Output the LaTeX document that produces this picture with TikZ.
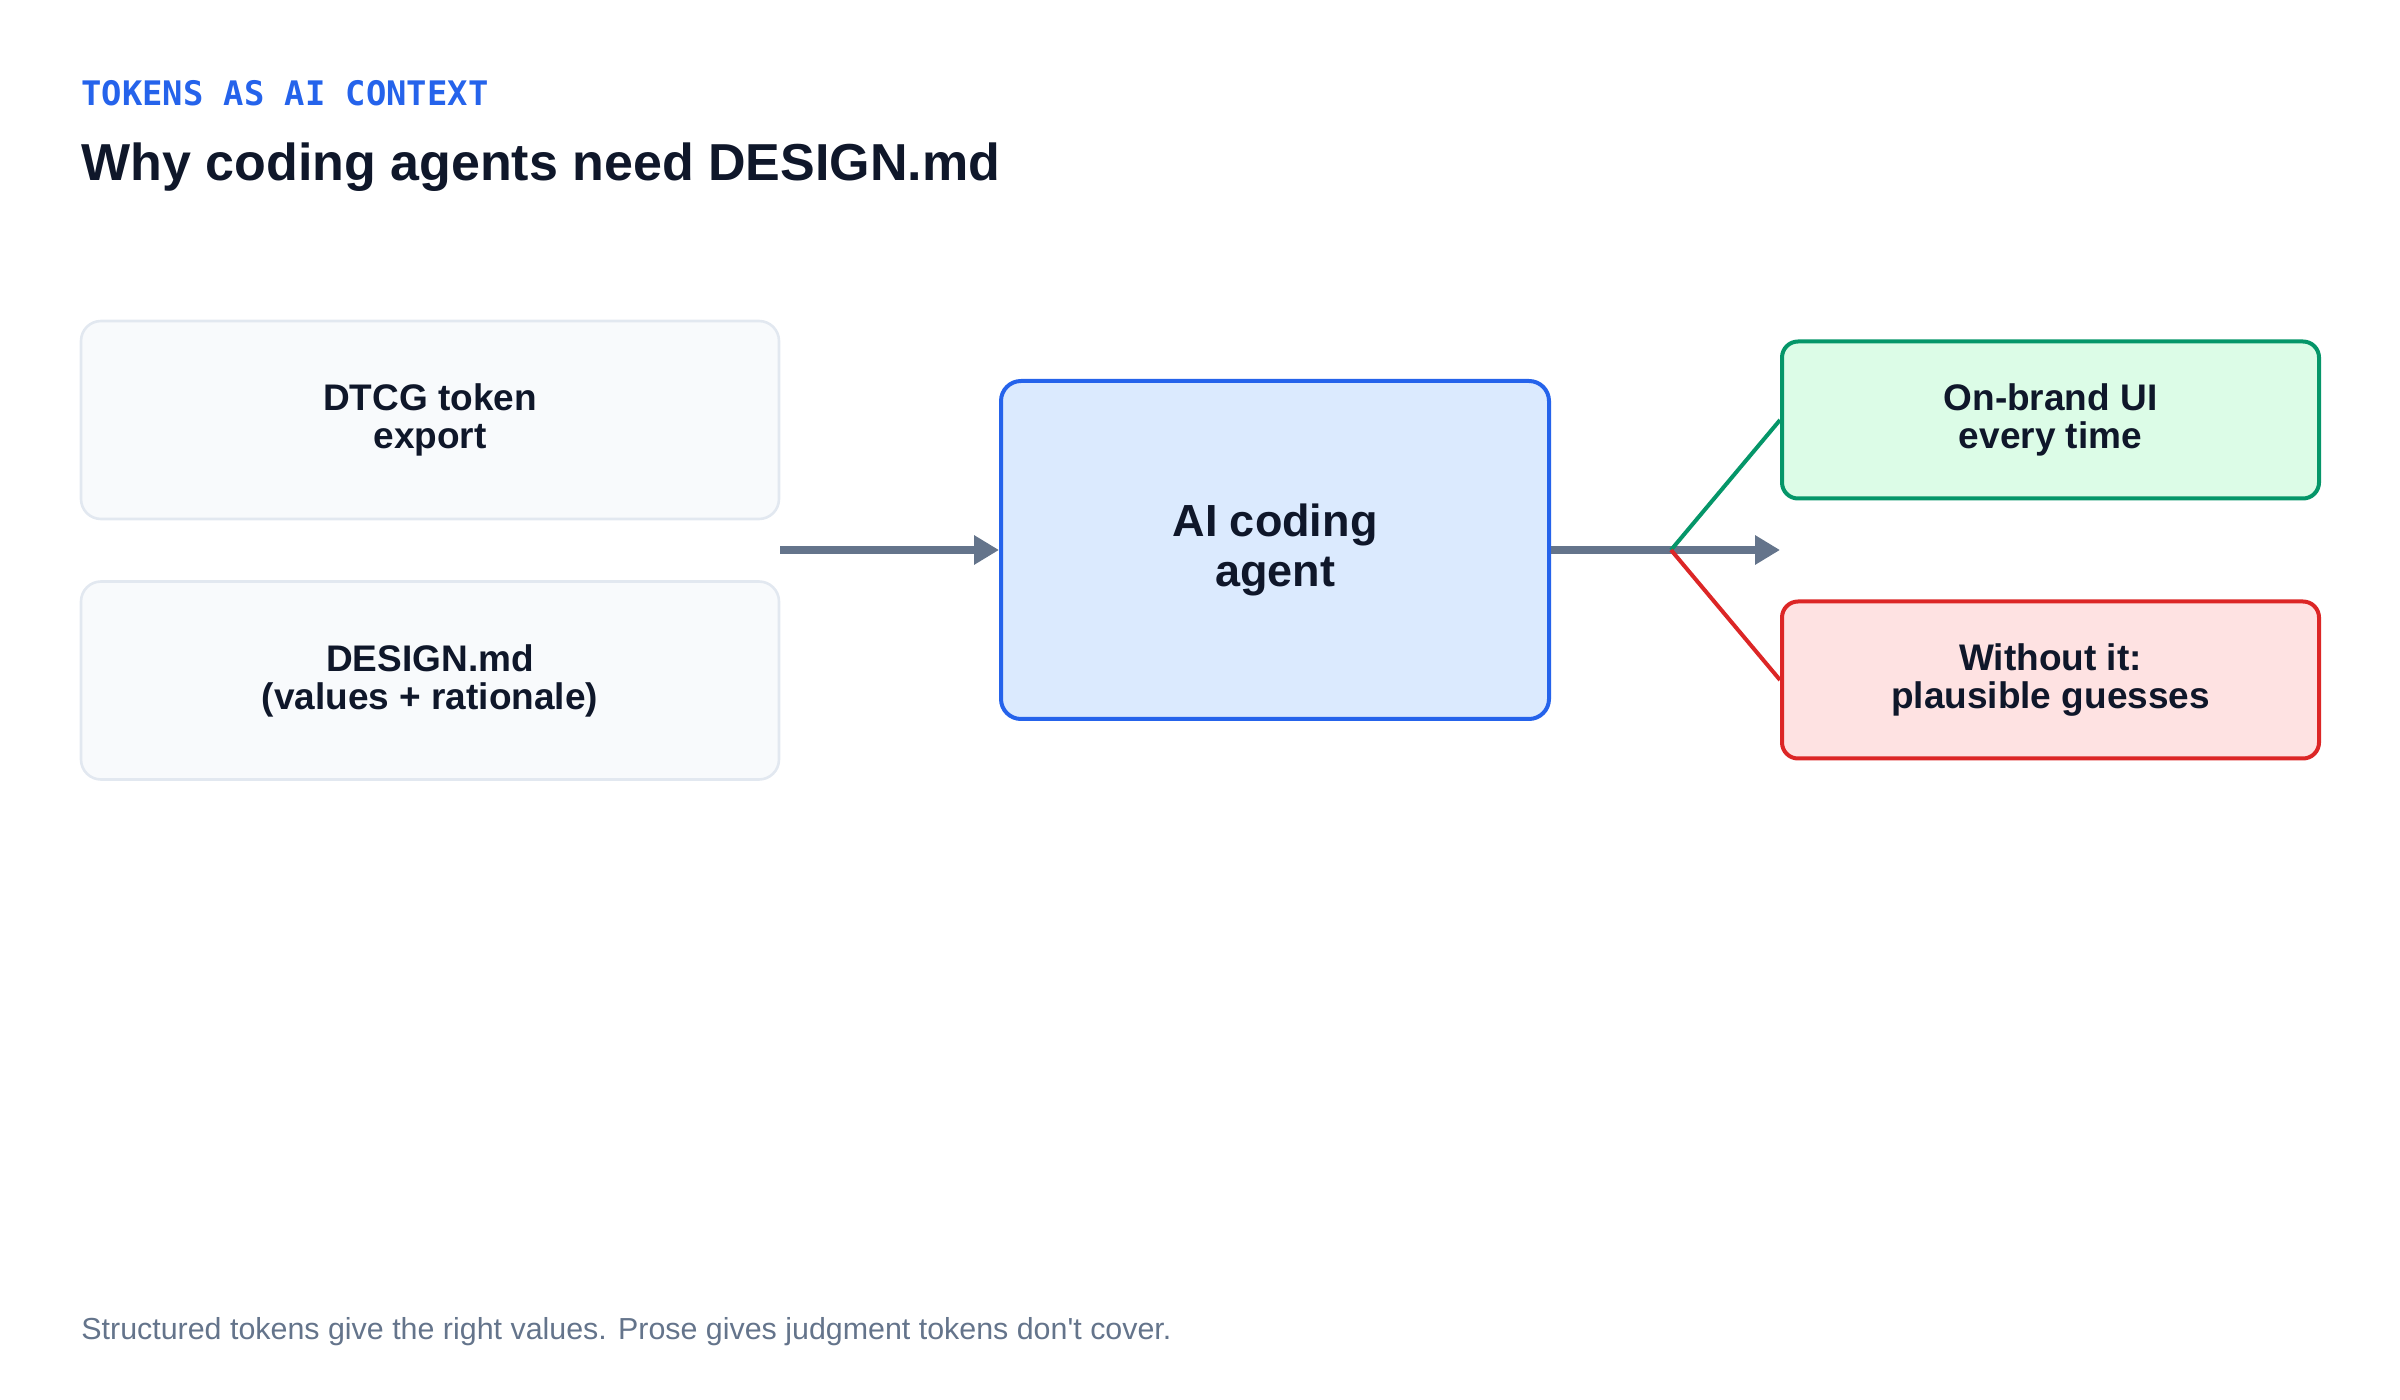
\documentclass[tikz,border=0pt]{standalone}
\usepackage{fontspec}
\setmainfont{Liberation Sans}
\setmonofont{DejaVu Sans Mono}
\usetikzlibrary{arrows.meta}

\definecolor{ink}{HTML}{0F172A}
\definecolor{muted}{HTML}{64748B}
\definecolor{accent}{HTML}{2563EB}
\definecolor{cardfill}{HTML}{F8FAFC}
\definecolor{cardline}{HTML}{E2E8F0}
\definecolor{agentfill}{HTML}{DBEAFE}
\definecolor{okline}{HTML}{059669}
\definecolor{okfill}{HTML}{DCFCE7}
\definecolor{badline}{HTML}{DC2626}
\definecolor{badfill}{HTML}{FEE2E2}

\tikzset{
  card/.style={draw=cardline, fill=cardfill, line width=1.3pt, rounded corners=10pt,
    minimum width=349pt, minimum height=99pt, inner sep=0pt, align=center,
    text=ink, font=\fontsize{18.5}{19}\selectfont\bfseries},
  agentbox/.style={draw=accent, fill=agentfill, line width=2pt, rounded corners=10pt,
    minimum width=274pt, minimum height=169pt, inner sep=0pt, align=center,
    text=ink, font=\fontsize{22.5}{25}\selectfont\bfseries},
  outcome/.style={line width=2pt, rounded corners=8pt,
    minimum width=268.5pt, minimum height=78.5pt, inner sep=0pt, align=center,
    text=ink, font=\fontsize{18.5}{19}\selectfont\bfseries},
  flow/.style={draw=muted, line width=4pt, -{Triangle[length=12.5pt,width=14pt]}},
  branch/.style={line width=2pt}
}

\begin{document}
\begin{tikzpicture}[x=0.5pt, y=-0.5pt]
\useasboundingbox (0,0) rectangle (2400,1400);

% heading
\node [anchor=base west, inner sep=0pt, text=accent,
  font=\ttfamily\bfseries\fontsize{16.9}{20}\selectfont] (eyebrow) at (81,106) {TOKENS AS AI CONTEXT};
\node [anchor=base west, inner sep=0pt, text=ink,
  font=\fontsize{26}{30}\selectfont\bfseries] (title) at (81,181) {Why coding agents need DESIGN.md};

% inputs
\node [card] (tokens) at (430,420) {DTCG token\\export};
\node [card] (design) at (430,680.5) {DESIGN.md\\(values + rationale)};

% agent
\node [agentbox] (agent) at (1275,550) {AI coding\\agent};

% outcomes
\node [outcome, draw=okline, fill=okfill] (good) at (2050.5,420) {On-brand UI\\every time};
\node [outcome, draw=badline, fill=badfill] (bad) at (2050.5,680) {Without it:\\plausible guesses};

% connectors
\coordinate (src) at (tokens.east |- agent.west);
\coordinate (dst) at (good.west |- agent.east);
\coordinate (fork) at (1671,550);
\draw [flow] (src) -- (agent.west);
\draw [flow] (agent.east) -- (dst);
\draw [branch, draw=okline] (fork) -- (good.west);
\draw [branch, draw=badline] (fork) -- (bad.west);

% footer
\node [anchor=base west, inner sep=0pt, text=muted,
  font=\fontsize{15.2}{18}\selectfont] (note) at (81,1339)
  {Structured tokens give the right values. Prose gives judgment tokens don\textquotesingle t cover.};
\end{tikzpicture}
\end{document}
